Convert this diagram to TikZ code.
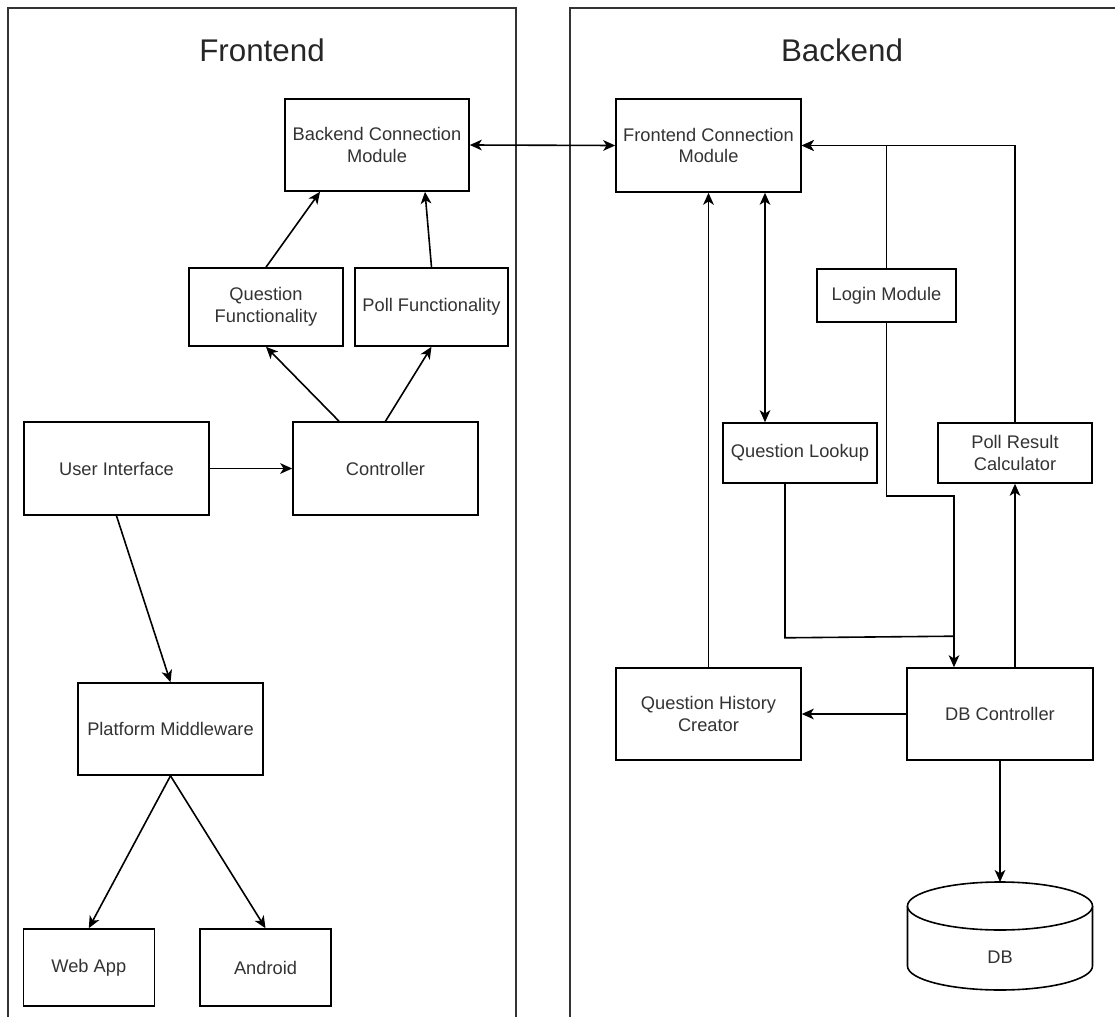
\documentclass[tikz,border=0pt]{standalone}
\usepackage{fontspec}
\setmainfont{Liberation Sans}
\usetikzlibrary{arrows.meta,calc}
\begin{document}
\begin{tikzpicture}[x=0.75pt,y=-0.75pt,
  box/.style={draw=black, line width=1.2pt, fill=white, text=black!80, align=center,
    font=\fontsize{13.7}{16.3}\selectfont, inner sep=2pt},
  title/.style={text=black!85, font=\fontsize{23.5}{28}\selectfont},
  panel/.style={draw=black!80, line width=1.2pt},
  tip/.tip={Stealth[length=9pt,width=8pt,inset=2.5pt]},
  conn/.style={line width=1.2pt, -tip},
  biconn/.style={line width=1.2pt, tip-tip},
  plain/.style={line width=1.2pt}
]
\useasboundingbox (0,0) rectangle (1115,1017);
% panels
\draw[panel] (8,1017) -- (8,8) -- (516,8) -- (516,1017);
\draw[panel] (570,1017) -- (570,8) -- (1115,8);
\node[title] (fe) at (262,50) {Frontend};
\node[title] (be) at (842,50) {Backend};

% frontend nodes
\node[box, minimum width=138pt, minimum height=69pt] (bcm) at (377,145) {Backend Connection\\Module};
\node[box, minimum width=115.5pt, minimum height=58.5pt] (qf) at (266,307) {Question\\Functionality};
\node[box, minimum width=114.75pt, minimum height=58.5pt] (pf) at (431.5,307) {Poll Functionality};
\node[box, minimum width=138.75pt, minimum height=69.75pt] (ui) at (116.5,468.5) {User Interface};
\node[box, minimum width=138.75pt, minimum height=69.75pt] (ctrl) at (385.5,468.5) {Controller};
\node[box, minimum width=138.75pt, minimum height=69pt] (pm) at (170.5,729) {Platform Middleware};
\node[box, minimum width=98.25pt, minimum height=57.75pt] (web) at (88.8,967.5) {Web App};
\node[box, minimum width=98.25pt, minimum height=57.75pt] (android) at (265.5,967.5) {Android};

% backend nodes
\node[box, minimum width=138.75pt, minimum height=69.75pt] (fcm) at (708.5,145.5) {Frontend Connection\\Module};
\node[box, minimum width=104.25pt, minimum height=39.75pt] (login) at (886.5,295.5) {Login Module};
\node[box, minimum width=115.5pt, minimum height=45pt] (ql) at (800,453) {Question Lookup};
\node[box, minimum width=115.5pt, minimum height=45pt] (prc) at (1015,453) {Poll Result\\Calculator};
\node[box, minimum width=138.75pt, minimum height=69pt] (qhc) at (708.5,714) {Question History\\Creator};
\node[box, minimum width=139.5pt, minimum height=69pt] (dbc) at (1000,714) {DB Controller};

% DB cylinder
\draw[line width=1.2pt, fill=white] (907.5,906) -- (907.5,966)
  arc[start angle=180, end angle=0, x radius=92.5, y radius=24] -- (1092.5,906);
\draw[line width=1.2pt, fill=white] (1000,906) ellipse [x radius=92.5, y radius=24];
\node[text=black!80, font=\fontsize{13.7}{16.3}\selectfont] (db) at (1000,957) {DB};
\coordinate (dbtop) at (1000,882);

% frontend connectors
\draw[conn] (qf.north) -- ($(bcm.south)+(-57,0)$);
\draw[conn] (pf.north) -- ($(bcm.south)+(48,0)$);
\draw[conn] ($(ctrl.north)+(-46.5,0)$) -- (qf.south);
\draw[conn] (ctrl.north) -- (pf.south);
\draw[conn] (ui.east) -- (ctrl.west);
\draw[conn] (ui.south) -- (pm.north);
\draw[conn] (pm.south) -- (web.north);
\draw[conn] (pm.south) -- (android.north);

% cross connector
\draw[biconn] (bcm.east) -- (fcm.west);

% backend connectors
\draw[biconn] ($(ql.north)+(-35,0)$) -- ($(fcm.south)+(56.5,0)$);
\draw[conn] (qhc.north) -- (fcm.south);
\draw[conn] (login.north) |- (fcm.east);
\draw[conn] (prc.north) |- (fcm.east);
\draw[conn] (login.south) -- ++(0,173) -| ($(dbc.north)+(-46,0)$);
\draw[plain] ($(ql.south)+(-15,0)$) -- ++(0,154) -- ($(dbc.north)+(-46,-31)$);
\draw[conn] ($(dbc.north)+(15,0)$) -- (prc.south);
\draw[conn] (dbc.west) -- (qhc.east);
\draw[conn] (dbc.south) -- (dbtop);
\end{tikzpicture}
\end{document}
